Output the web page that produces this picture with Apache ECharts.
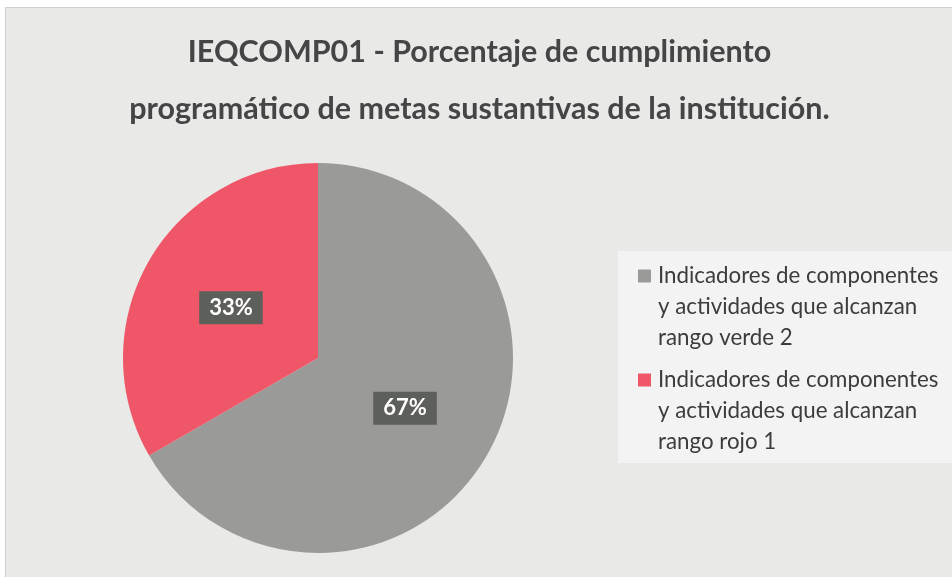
<!DOCTYPE html>
<html>
<head>
<meta charset="utf-8">
<script src="https://cdn.jsdelivr.net/npm/echarts@6/dist/echarts.min.js"></script>
<style>
  html, body { margin: 0; padding: 0; background: #ffffff; }
  #main {
    position: absolute;
    left: 5px;
    top: 7px;
    width: 947px;
    height: 570px;
    background: #e9e9e8;
    border-left: 1px solid #cfcfcf;
    border-top: 1px solid #cfcfcf;
  }
</style>
</head>
<body>
<div id="main"></div>
<script>
// datos del gráfico
var titleLines = [
  "IEQCOMP01 - Porcentaje de cumplimiento",
  "programático de metas sustantivas de la institución."
];
var categories = [
  "Indicadores de componentes y actividades que alcanzan rango verde",
  "Indicadores de componentes y actividades que alcanzan rango rojo"
];
var legendLines = [
  ["Indicadores de componentes", "y actividades que alcanzan", "rango verde 2"],
  ["Indicadores de componentes", "y actividades que alcanzan", "rango rojo 1"]
];
var values = [2, 1];
var colors = ["#9a9b98", "#ef5769"];

var myChart = echarts.init(document.getElementById("main"));

var pieData = categories.map(function (name, i) {
  return { name: name, value: values[i], itemStyle: { color: colors[i] } };
});

myChart.setOption({
  title: {
    text: titleLines.join("\n"),
    left: "center",
    top: 11,
    textStyle: {
      fontFamily: "Lato",
      fontSize: 30.5,
      fontWeight: "bold",
      color: "#454545",
      lineHeight: 57
    }
  },
  legend: {
    orient: "vertical",
    left: 612,
    top: 243,
    data: categories,
    itemWidth: 0,
    itemHeight: 0,
    itemGap: 20,
    padding: [14, 20, 10, 15],
    backgroundColor: "#f3f3f3",
    selectedMode: false,
    formatter: function (name) {
      var idx = categories.indexOf(name);
      var lines = legendLines[idx];
      var sq = idx === 0 ? "{sqA|}" : "{sqB|}";
      return sq + "{sp|}{t|" + lines[0] + "}\n{ind|}{t|" + lines[1] + "}\n{ind|}{t|" + lines[2] + "}";
    },
    textStyle: {
      rich: {
        sqA: { width: 13, height: 13, backgroundColor: colors[0] },
        sqB: { width: 13, height: 13, backgroundColor: colors[1] },
        sp: { width: 7 },
        ind: { width: 20 },
        t: {
          fontFamily: "Lato",
          fontSize: 22.3,
          color: "#3c3c3c",
          lineHeight: 31
        }
      }
    }
  },
  series: [
    {
      type: "pie",
      radius: 195,
      center: [312, 350],
      startAngle: 90,
      clockwise: true,
      data: pieData,
      emphasis: { disabled: true },
      label: {
        show: true,
        position: "inside",
        formatter: function (p) {
          return Math.round(p.percent) + "%";
        },
        fontFamily: "Lato",
        fontSize: 22,
        fontWeight: "bold",
        color: "#ffffff",
        backgroundColor: "#5d5f5b",
        padding: [6, 10, 5, 10]
      },
      labelLine: { show: false }
    }
  ]
});

window.addEventListener("resize", function () {
  myChart.resize();
});
</script>
</body>
</html>
